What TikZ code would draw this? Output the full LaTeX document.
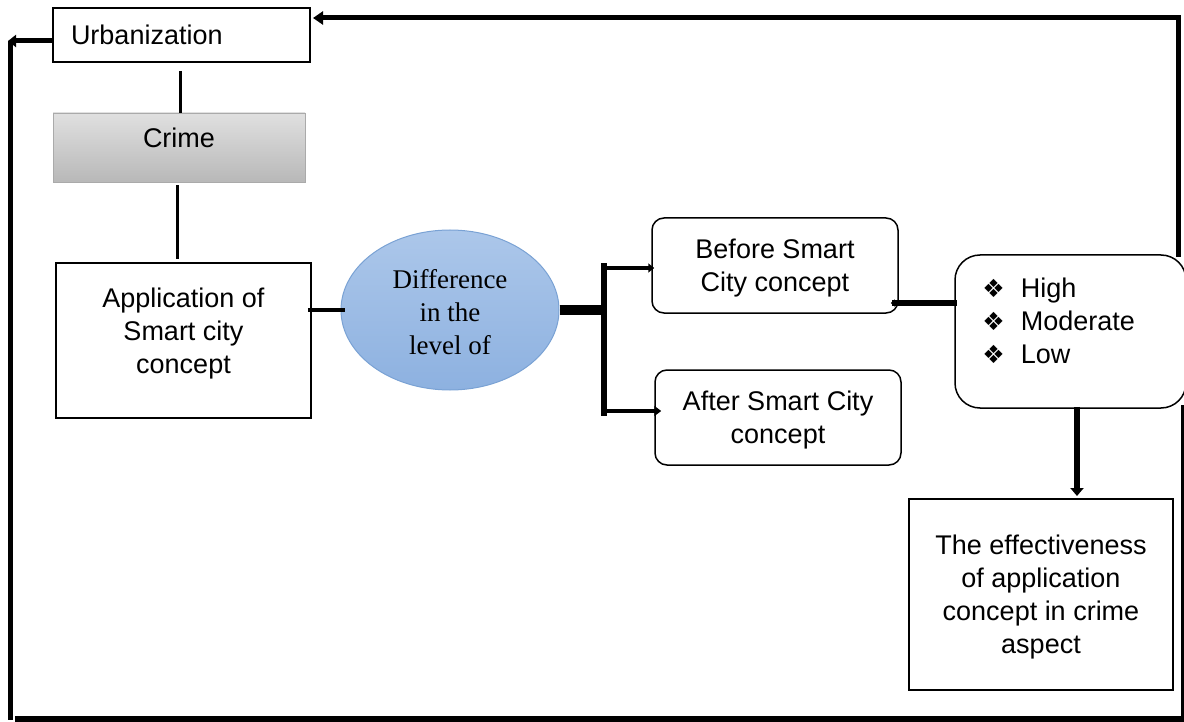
\documentclass[tikz,border=0pt]{standalone}
\usepackage{fontspec}
\setmainfont{Liberation Sans}
\newfontfamily\serifface{Liberation Serif}
\newfontfamily\symface{DejaVu Sans}
\usetikzlibrary{arrows.meta,calc,shapes.geometric}
\definecolor{ellTop}{RGB}{172,199,234}
\definecolor{ellBot}{RGB}{141,177,224}
\definecolor{ellLine}{RGB}{122,162,212}
\definecolor{crTop}{RGB}{224,224,224}
\definecolor{crBot}{RGB}{184,184,184}
\definecolor{crLine}{RGB}{170,170,170}
\newcommand{\bul}{{\symface\fontsize{25}{33}\selectfont ❖}\hspace{16pt}}
\begin{document}
\begin{tikzpicture}[x=1pt,y=-1pt,
  every node/.style={font=\fontsize{27}{33}\selectfont, inner sep=0pt},
  every label/.style={align=center},
  sqbox/.style={draw=black, line width=2pt, rectangle},
  rbox/.style={draw=black, line width=1.5pt, rectangle, rounded corners=12pt},
  crimebox/.style={rectangle, draw=crLine, line width=0.8pt, top color=crTop, bottom color=crBot},
  ellbox/.style={ellipse, draw=ellLine, line width=1pt, top color=ellTop, bottom color=ellBot},
  link/.style={line width=3pt},
  bold/.style={line width=5pt, line cap=rect, line join=miter}
]
\useasboundingbox (0,0) rectangle (1184,722);

% nodes
\node[sqbox, minimum width=257pt, minimum height=54pt, text width=221pt, align=left] (urb) at (181.5,35) {Urbanization};
\node[crimebox, minimum width=252pt, minimum height=69pt, label={[yshift=10pt]center:Crime}] (crime) at (179,147.5) {};
\node[sqbox, line width=1.6pt, minimum width=255pt, minimum height=155pt,
      label={[yshift=6.5pt]center:Application of\\Smart city\\concept}] (app) at (183.5,340.5) {};
\node[ellbox, minimum width=218pt, minimum height=160pt,
      label={[yshift=-2pt, font=\serifface\fontsize{27}{33}\selectfont]center:Difference\\in the\\level of}] (ell) at (450,310) {};
\node[rbox, minimum width=246pt, minimum height=95pt,
      label={[yshift=-2.5pt]center:Before Smart\\City concept}] (before) at (775,265.5) {};
\node[rbox, minimum width=246pt, minimum height=95pt,
      label={[yshift=-2.5pt]center:After Smart City\\concept}] (after) at (778,417.5) {};
\node[draw=black, line width=1.5pt, rectangle, rounded corners=25pt, minimum width=231pt, minimum height=153pt,
      label={[anchor=west, align=left, xshift=28pt, yshift=10.5pt]west:\bul High\\\bul Moderate\\\bul Low}] (high) at (1070.5,331.5) {};
\node[sqbox, minimum width=264pt, minimum height=191pt,
      label={[yshift=-3pt]center:The effectiveness\\of application\\concept in crime\\aspect}] (effect) at (1041,594.5) {};

% vertical chain on the left
\draw[link] ([xshift=-1.5pt,yshift=-8pt]urb.south) -- ([xshift=1pt]crime.north);
\draw[link] ([xshift=-2pt,yshift=-3pt]crime.south) -- ([xshift=-6.5pt,yshift=3pt]app.north);
\coordinate (appmid) at (app.east |- ell.west);
\draw[link, line width=3.5pt, shorten <=-4pt, shorten >=-4pt] (appmid) -- (ell.west);

% bracket
\coordinate (bt) at (604,266);
\coordinate (bb) at (604,413);
\draw[line width=10pt] (ell.east) -- (ell.east -| bt);
\draw[line width=6pt, line cap=rect] (bt) -- (bb);
\coordinate (bin) at ([yshift=-2.5pt]before.west);
\coordinate (ain) at ([yshift=6.5pt]after.west);
\draw[line width=4pt, -{Triangle[length=6pt,width=9pt]}, shorten >=-3pt] (bin -| bt) -- (bin);
\draw[line width=4pt, -{Triangle[length=7pt,width=10pt]}, shorten >=-7pt] (ain -| bt) -- (ain);

% before -> high
\coordinate (bh) at ([yshift=-37.5pt]before.east);
\draw[bold, {Triangle[length=4pt,width=7pt]}-, shorten <=-8pt] (bh) -- (bh -| high.west);

% high -> effect
\draw[line width=6pt, -{Triangle[length=8pt,width=13pt]}, shorten <=-2pt, shorten >=2pt] ([xshift=6.5pt]high.south) -- ([xshift=36pt]effect.north);

% feedback loop top
\coordinate (htop) at ([xshift=107.5pt]high.north);
\coordinate (urbin) at ([yshift=17pt]urb.east);
\draw[bold, -{Triangle[length=10pt,width=13pt]}, shorten >=2pt] (htop) |- (urbin);

% left loop
\coordinate (lt) at (10,41);
\coordinate (lb) at (10,720);
\draw[bold, line cap=butt, -{Triangle[length=8pt,width=12pt]}, shorten >=-2pt] ([yshift=-6pt]urb.west) -- (lt);
\draw[line width=5pt] (lt) -- (lb);

% bottom line and right edge
\coordinate (bl) at (15,719);
\coordinate (brc) at (1184,719);
\draw[line width=6pt] (bl) -- (brc);
\coordinate (hr) at (1182,405);
\coordinate (hrb) at (1182,716);
\draw[line width=3pt] (hr) -- (hrb);
\end{tikzpicture}
\end{document}
